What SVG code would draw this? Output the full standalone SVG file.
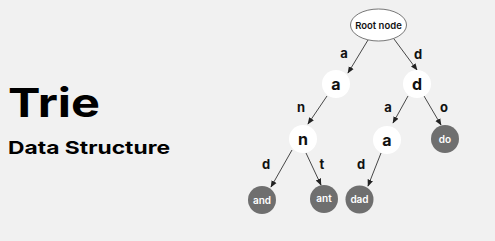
<svg xmlns="http://www.w3.org/2000/svg" width="495" height="241" viewBox="0 0 495 241">
  <defs>
    <marker id="arrow" viewBox="0 0 10 10" refX="9" refY="5" markerWidth="7" markerHeight="7" orient="auto-start-reverse" markerUnits="userSpaceOnUse">
      <path d="M0,1 L10,5 L0,9 z" fill="#222"/>
    </marker>
    <style>
      .edge { stroke: #333; stroke-width: 0.9; fill: none; marker-end: url(#arrow); }
      .elabel { font-family: Inter, "Open Sans", sans-serif; font-weight: 700; font-size: 13px; fill: #111; text-anchor: middle; }
      .inner { fill: #ffffff; }
      .leaf { fill: #6f6f6f; }
      .ntext { font-family: Inter, "Open Sans", sans-serif; font-weight: 700; font-size: 16px; fill: #111; text-anchor: middle; }
      .ltext { font-family: Inter, "Open Sans", sans-serif; font-weight: 600; font-size: 10px; fill: #ffffff; text-anchor: middle; }
    </style>
  </defs>

  <rect width="495" height="241" fill="#f1f1f1"/>

  <!-- title -->
  <text x="8" y="117" font-family="Inter, 'Open Sans', sans-serif" font-weight="700" font-size="40" fill="#000" textLength="92" lengthAdjust="spacingAndGlyphs">Trie</text>
  <text x="8" y="154" font-family="Inter, 'Open Sans', sans-serif" font-weight="700" font-size="18" fill="#000" textLength="162" lengthAdjust="spacingAndGlyphs">Data Structure</text>

  <!-- connectors -->
  <g id="connectors">
    <line class="edge" x1="368" y1="40" x2="348" y2="73"/>
    <line class="edge" x1="394" y1="39" x2="417" y2="70"/>
    <line class="edge" x1="327" y1="96" x2="308" y2="124"/>
    <line class="edge" x1="408" y1="96" x2="393" y2="123"/>
    <line class="edge" x1="424" y1="96" x2="441" y2="125"/>
    <line class="edge" x1="292" y1="150" x2="271" y2="187"/>
    <line class="edge" x1="306" y1="153" x2="321" y2="185"/>
    <line class="edge" x1="381" y1="153" x2="368" y2="186"/>
    <text class="elabel" x="344" y="58">a</text>
    <text class="elabel" x="418" y="59">d</text>
    <text class="elabel" x="301" y="112">n</text>
    <text class="elabel" x="388" y="112">a</text>
    <text class="elabel" x="444" y="112">o</text>
    <text class="elabel" x="266" y="169">d</text>
    <text class="elabel" x="322" y="169">t</text>
    <text class="elabel" x="361" y="169">d</text>
  </g>

  <g id="root">
    <ellipse cx="378.5" cy="25" rx="28" ry="16" fill="#fff" stroke="#555" stroke-width="0.8"/>
    <text x="378.5" y="28.5" font-family="Inter, 'Open Sans', sans-serif" font-weight="600" font-size="9.5" fill="#111" text-anchor="middle">Root node</text>
  </g>

  <g id="node-a">
    <circle class="inner" cx="336" cy="84" r="14"/>
    <text class="ntext" x="336" y="89.5">a</text>
  </g>
  <g id="node-d">
    <circle class="inner" cx="417" cy="84" r="14"/>
    <text class="ntext" x="417" y="89.5">d</text>
  </g>
  <g id="node-an">
    <circle class="inner" cx="303" cy="139" r="14"/>
    <text class="ntext" x="303" y="144.5">n</text>
  </g>
  <g id="node-da">
    <circle class="inner" cx="387" cy="140" r="14"/>
    <text class="ntext" x="387" y="145.5">a</text>
  </g>
  <g id="leaf-do">
    <circle class="leaf" cx="445" cy="139" r="14"/>
    <text class="ltext" x="445" y="142.5">do</text>
  </g>
  <g id="leaf-and">
    <circle class="leaf" cx="262" cy="200" r="14"/>
    <text class="ltext" x="262" y="203.5">and</text>
  </g>
  <g id="leaf-ant">
    <circle class="leaf" cx="324" cy="199" r="14"/>
    <text class="ltext" x="324" y="202">ant</text>
  </g>
  <g id="leaf-dad">
    <circle class="leaf" cx="359.5" cy="199.5" r="14"/>
    <text class="ltext" x="359.5" y="203">dad</text>
  </g>
</svg>
